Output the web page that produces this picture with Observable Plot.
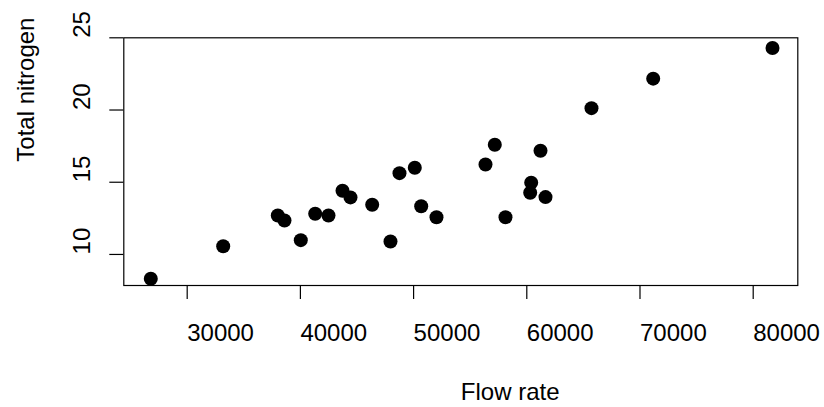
<!DOCTYPE html>
<html>
<head>
<meta charset="utf-8">
<script src="https://cdn.jsdelivr.net/npm/d3@7"></script>
<script src="https://cdn.jsdelivr.net/npm/@observablehq/plot@0.6"></script>
<style>
  html, body { margin: 0; padding: 0; background: white; }
</style>
</head>
<body>
<div id="chart"></div>
<script>
const flowRate = [26784, 33180, 38004, 38595, 40035, 41307, 42482, 43719, 44426, 46343, 47959, 48754, 50106, 50671, 52023, 56352, 57173, 58118, 60389, 60300, 61210, 61652, 65715, 71166, 81705];
const totalNitrogen = [8.32, 10.57, 12.70, 12.35, 10.99, 12.82, 12.70, 14.41, 13.95, 13.44, 10.90, 15.63, 16.00, 13.34, 12.58, 16.23, 17.60, 12.58, 14.97, 14.27, 17.18, 13.97, 20.13, 22.17, 24.29];
const xTicks = [30000, 40000, 50000, 60000, 70000, 80000];
const yTicks = [10, 15, 20, 25];
const xTitle = "Flow rate";
const yTitle = "Total nitrogen";

const data = flowRate.map((f, i) => ({flow: f, nitrogen: totalNitrogen[i]}));

const chart = Plot.plot({
  width: 824,
  height: 407,
  marginLeft: 123.3,
  marginRight: 26.7,
  marginTop: 37.3,
  marginBottom: 122,
  style: {fontSize: "24px", fontFamily: "'Liberation Sans', Arial, sans-serif", color: "black", background: "white"},
  x: {domain: [24400, 83940], axis: null},
  y: {domain: [7.85, 25.0], axis: null},
  marks: [
    Plot.frame({stroke: "black", strokeWidth: 1.2}),
    Plot.axisX(xTicks, {
      anchor: "bottom", tickSize: 14, tickPadding: 24, tickFormat: d => String(d),
      textAnchor: "start", label: null, strokeWidth: 1.2, fill: "black"
    }),
    Plot.axisY(yTicks, {
      anchor: "left", tickSize: 14, tickPadding: 20.3, tickRotate: -90, tickFormat: d => String(d),
      textAnchor: "start", lineAnchor: "bottom", label: null, strokeWidth: 1.2, fill: "black"
    }),
    Plot.dot(data, {x: "flow", y: "nitrogen", r: 7, fill: "black", stroke: "none"}),
    Plot.text([xTitle], {frameAnchor: "bottom", textAnchor: "start", lineAnchor: "bottom", dy: 114, fill: "black"}),
    Plot.text([yTitle], {frameAnchor: "left", rotate: -90, textAnchor: "start", lineAnchor: "bottom", dx: -90.3, fill: "black"})
  ]
});
document.getElementById("chart").appendChild(chart);
</script>
</body>
</html>
